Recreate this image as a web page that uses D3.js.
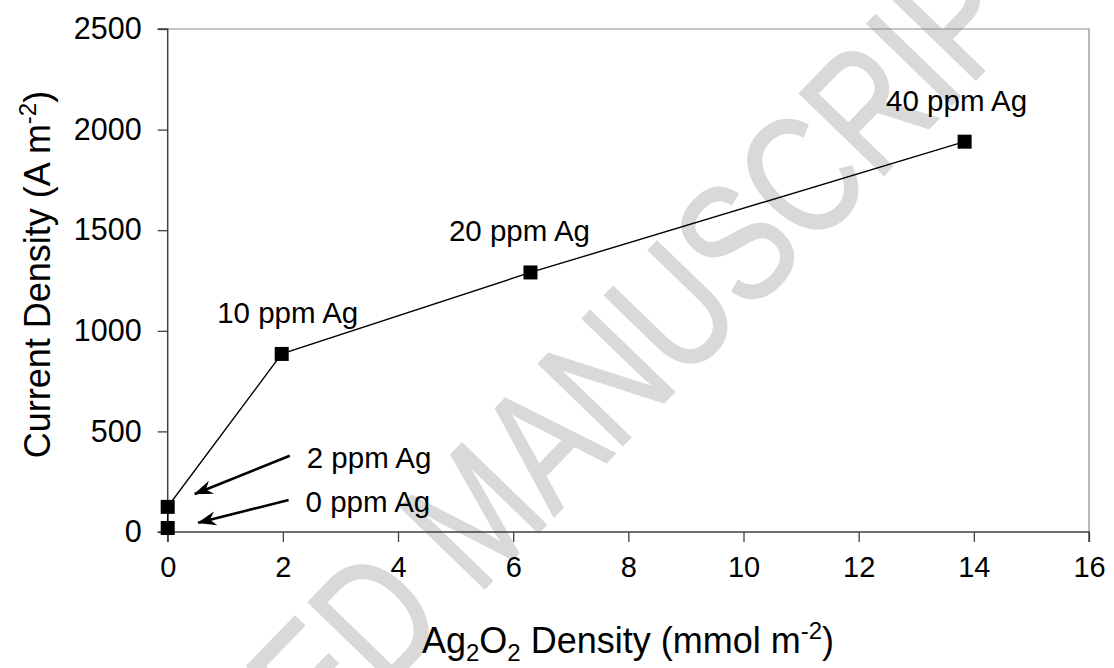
<!DOCTYPE html>
<html>
<head>
<meta charset="utf-8">
<script src="https://cdn.jsdelivr.net/npm/d3@7"></script>
<style>
  html, body { margin: 0; padding: 0; background: #fff; }
  svg { display: block; font-family: "Liberation Sans", Arial, sans-serif; }
</style>
</head>
<body>
<svg id="chart" width="1114" height="668"></svg>
<script>
// ---- data ----
const labels = ["0 ppm Ag", "2 ppm Ag", "10 ppm Ag", "20 ppm Ag", "40 ppm Ag"];
const xValues = [0, 0, 1.98, 6.3, 13.84];          // Ag2O2 density (mmol m-2)
const yValues = [20, 125, 885, 1290, 1940];        // current density (A m-2)
const xTicks = [0, 2, 4, 6, 8, 10, 12, 14, 16];
const yTicks = [0, 500, 1000, 1500, 2000, 2500];
// arrow annotations (in data units): tail and tip
const arrowLabels = ["2 ppm Ag", "0 ppm Ag"];
const arrowTail = [[2.12, 379], [2.10, 159]];
const arrowTip = [[0.47, 189], [0.53, 46]];

// ---- layout ----
const svg = d3.select("#chart");
const L = 167.7, R = 1089, T = 29, B = 532;
const x = d3.scaleLinear().domain([0, 16]).range([L, R]);
const y = d3.scaleLinear().domain([0, 2500]).range([B, T]);

// watermark
svg.append("text")
  .attr("transform", "translate(-50,1142) rotate(-46) scale(0.78,1)")
  .attr("font-size", 170)
  .attr("fill", "#d9d9d9")
  .attr("stroke", "#d9d9d9").attr("stroke-width", 2)
  .text("ACCEPTED MANUSCRIPT");

// frame (top & right)
svg.append("path")
  .attr("d", `M${L},${T}H${R}V${B}`)
  .attr("fill", "none").attr("stroke", "#8c8c8c").attr("stroke-width", 1.2);

// axes
const xAxis = d3.axisBottom(x).tickValues(xTicks).tickSize(10).tickPadding(14).tickFormat(d3.format("d"));
const yAxis = d3.axisLeft(y).tickValues(yTicks).tickSize(10).tickPadding(16).tickFormat(d3.format("d"));

const gx = svg.append("g").attr("transform", `translate(0,${B})`).call(xAxis);
const gy = svg.append("g").attr("transform", `translate(${L},0)`).call(yAxis);
[gx, gy].forEach(g => {
  g.select(".domain").attr("stroke", "#404040").attr("stroke-width", 1.5);
  g.selectAll(".tick line").attr("stroke", "#404040").attr("stroke-width", 1.3);
  g.selectAll(".tick text").attr("fill", "#000").attr("font-family", "Liberation Sans, Arial, sans-serif");
});
gy.select(".domain").attr("d", `M${-10},${T}H0V${B}H-10`);
gx.select(".domain").attr("d", `M${L},10V0H${R}V10`);
gx.selectAll(".tick text").attr("font-size", 29).attr("dy", "0.71em");
gy.selectAll(".tick text").attr("font-size", 30.5);

// axis titles
const xt = svg.append("text")
  .attr("x", 628).attr("y", 653)
  .attr("text-anchor", "middle").attr("font-size", 36).attr("fill", "#000");
xt.append("tspan").text("Ag");
xt.append("tspan").attr("font-size", 24).attr("dy", 8).text("2");
xt.append("tspan").attr("dy", -8).text("O");
xt.append("tspan").attr("font-size", 24).attr("dy", 8).text("2");
xt.append("tspan").attr("dy", -8).text(" Density (mmol m");
xt.append("tspan").attr("font-size", 24).attr("dy", -14).text("-2");
xt.append("tspan").attr("dy", 14).text(")");

const yt = svg.append("text")
  .attr("transform", "translate(50,274.5) rotate(-90)")
  .attr("text-anchor", "middle").attr("font-size", 36).attr("fill", "#000");
yt.append("tspan").text("Current Density (A m");
yt.append("tspan").attr("font-size", 24).attr("dy", -14).text("-2");
yt.append("tspan").attr("dy", 14).text(")");

// data line
const pts = xValues.map((v, i) => [v, yValues[i]]);
svg.append("path")
  .datum(pts)
  .attr("fill", "none").attr("stroke", "#000").attr("stroke-width", 1.4)
  .attr("d", d3.line().x(d => x(d[0])).y(d => y(d[1])));

// markers
const ms = 14;
svg.selectAll("rect.pt").data(pts).join("rect")
  .attr("class", "pt")
  .attr("x", d => x(d[0]) - ms / 2).attr("y", d => y(d[1]) - ms / 2)
  .attr("width", ms).attr("height", ms).attr("fill", "#000");

// point labels (10, 20, 40 ppm) above points
const labelShift = { "10 ppm Ag": 6, "20 ppm Ag": -11, "40 ppm Ag": -8 };
labels.forEach((lab, i) => {
  if (!(lab in labelShift)) return;
  svg.append("text")
    .attr("x", x(xValues[i]) + labelShift[lab])
    .attr("y", y(yValues[i]) - 31)
    .attr("text-anchor", "middle").attr("font-size", 29.5).attr("fill", "#000")
    .text(lab);
});

// arrow marker
svg.append("defs").append("marker")
  .attr("id", "arrow").attr("markerUnits", "userSpaceOnUse")
  .attr("viewBox", "-20 -8 22 16").attr("refX", 0).attr("refY", 0)
  .attr("markerWidth", 22).attr("markerHeight", 16).attr("orient", "auto")
  .append("path").attr("d", "M1,0 L-18,-7 L-12,0 L-18,7 Z").attr("fill", "#000");

arrowLabels.forEach((lab, i) => {
  svg.append("line")
    .attr("x1", x(arrowTail[i][0])).attr("y1", y(arrowTail[i][1]))
    .attr("x2", x(arrowTip[i][0])).attr("y2", y(arrowTip[i][1]))
    .attr("stroke", "#000").attr("stroke-width", 2.6)
    .attr("marker-end", "url(#arrow)");
  svg.append("text")
    .attr("x", x(arrowTail[i][0]) + 17)
    .attr("y", y(arrowTail[i][1]) + 12)
    .attr("font-size", 29.5).attr("fill", "#000")
    .text(lab);
});
</script>
</body>
</html>
